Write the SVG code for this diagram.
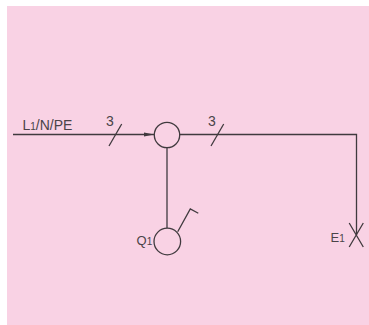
<svg xmlns="http://www.w3.org/2000/svg" width="369" height="325" viewBox="0 0 369 325">
<style>
.l{fill:none;stroke:#403a3e;stroke-width:1.300}
.t{font-family:"Liberation Sans",sans-serif;font-size:14px;fill:#4a4448}
.n{font-size:13px}
.s{font-size:10px}
</style>
<defs><marker id="a" markerUnits="userSpaceOnUse" markerWidth="10" markerHeight="6" refX="10" refY="3" orient="auto"><path d="M0 1L10 3L0 5Z" fill="#403a3e"/></marker></defs>
<rect width="369" height="325" fill="#fff"/>
<rect x="7" y="6" width="362" height="319" fill="#f9d2e4"/>
<g id="connectors">
<path class="l" d="M13 134.500H154" marker-end="url(#a)"/>
<path class="l" d="M180 134.500H356.500V235"/>
<path class="l" d="M167 148V228"/>
<path class="l" d="M109 146L121.700 124"/>
<path class="l" d="M211 146L223.700 124"/>
</g>
<g id="n1"><circle class="l" cx="167" cy="135" r="12.700"/></g>
<g id="q1"><circle class="l" cx="167.300" cy="241.500" r="13.300"/><path class="l" d="M177.700 231.700L190.300 209L198.300 213.300"/><text class="t n" x="136.500" y="245">Q<tspan class="s">1</tspan></text></g>
<g id="e1"><path class="l" d="M349.200 223L363.300 247M363.300 223L349.200 247"/><text class="t n" x="330.500" y="242">E<tspan class="s">1</tspan></text></g>
<text class="t" x="22.500" y="129.500">L<tspan class="s">1</tspan>/N/PE</text>
<text class="t" x="106" y="126">3</text>
<text class="t" x="208" y="126">3</text>
</svg>
